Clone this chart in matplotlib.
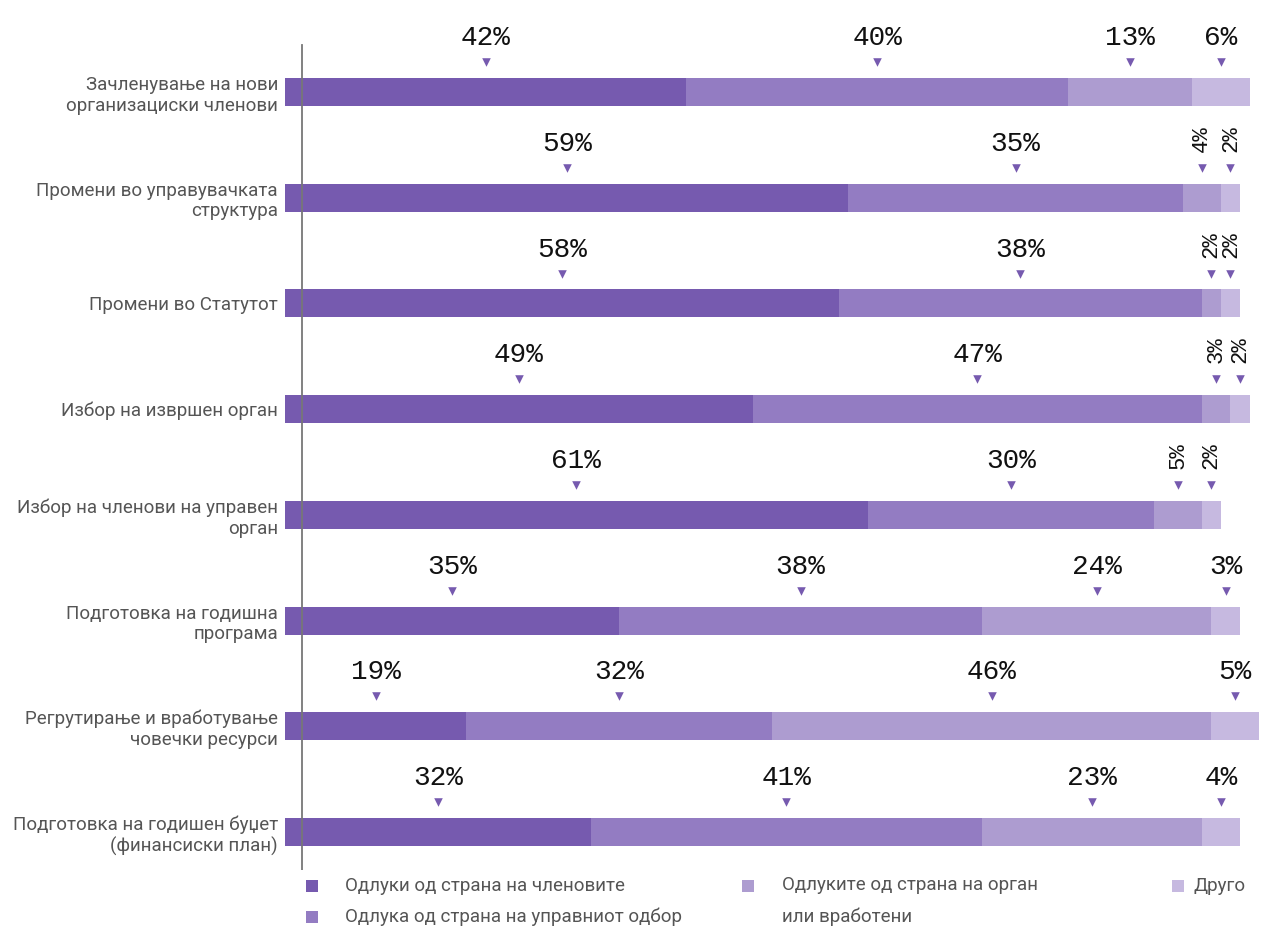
import matplotlib
matplotlib.use("Agg")
import matplotlib.pyplot as plt
from matplotlib.patches import Rectangle
import numpy as np

# Categories (top to bottom) and the share of each decision type, in %
categories = [
    "Зачленување на нови\nорганизациски членови",
    "Промени во управувачката\nструктура",
    "Промени во Статутот",
    "Избор на извршен орган",
    "Избор на членови на управен\nорган",
    "Подготовка на годишна\nпрограма",
    "Регрутирање и вработување\nчовечки ресурси",
    "Подготовка на годишен буџет\n(финансиски план)",
]
members = [42, 59, 58, 49, 61, 35, 19, 32]
board = [40, 35, 38, 47, 30, 38, 32, 41]
body_staff = [13, 4, 2, 3, 5, 24, 46, 23]
other = [6, 2, 2, 2, 2, 3, 5, 4]

series_names = [
    "Одлуки од страна на членовите",
    "Одлука од страна на управниот одбор",
    "Одлуките од страна на орган\nили вработени",
    "Друго",
]
colors = ["#765AAF", "#937CC2", "#AD9CD0", "#C6B9E0"]

W, H = 1265, 930
fig = plt.figure(figsize=(W / 100, H / 100), dpi=100)
ax = fig.add_axes([285 / W, 60 / H, 980 / W, 870 / H])

label_font = dict(family=["Roboto", "DejaVu Sans"], fontsize=13.5, color="#555555")
pct_font = dict(family=["Liberation Mono", "DejaVu Sans Mono"], color="#111111")

data = np.array([members, board, body_staff, other], dtype=float)
y = np.arange(len(categories))
bar_h = 0.265

left = np.zeros(len(categories))
for j, vals in enumerate(data):
    ax.barh(y, vals, left=left, height=bar_h, color=colors[j], linewidth=0)
    for i, v in enumerate(vals):
        cx = left[i] + v / 2
        top = y[i] - bar_h / 2
        ax.scatter(cx, top - 0.15, marker="v", s=38, color=colors[0], linewidths=0, zorder=3)
        # narrow segments next to another narrow one get vertical labels
        prev_small = j > 0 and data[j - 1, i] < 8
        next_small = j < len(data) - 1 and data[j + 1, i] < 8
        txt = f"{int(v)}%"
        if v < 8 and (prev_small or next_small):
            ax.text(cx, top - 0.3, txt, rotation=90, ha="center", va="bottom",
                    fontsize=16, **pct_font)
        else:
            ax.text(cx, top - 0.31, txt, ha="center", va="baseline", fontsize=20, **pct_font)
    left += vals

ax.set_xlim(0, 980 / 9.55)
ax.set_ylim(7.36, -0.87)
ax.set_yticks(y)
ax.set_yticklabels(categories, ha="right", **label_font)
ax.tick_params(axis="y", length=0, pad=5)
ax.set_xticks([])
for s in ax.spines.values():
    s.set_visible(False)

# thin vertical guide line near the bar origin
ax.axvline(17 / 9.55, ymin=0, ymax=(870 - 45) / 870, color="#777777", lw=1.3, zorder=4)

# legend drawn by hand below the bars
leg_items = [(312, 886), (312, 917), (748, 886), (1178, 886)]
text_x = [345, 345, 782, 1193]
sq = 12
for (px, py), tx, name, c in zip(leg_items, text_x, series_names, colors):
    fig.add_artist(Rectangle(((px - sq / 2) / W, 1 - (py + sq / 2) / H), sq / W, sq / H,
                             transform=fig.transFigure, color=c, linewidth=0))
    if "\n" in name:
        fig.text(tx / W, 1 - (py - 10) / H, name, ha="left", va="top", linespacing=1.9, **label_font)
    else:
        fig.text(tx / W, 1 - py / H, name, ha="left", va="center", **label_font)

fig.savefig("out.png", dpi=100, facecolor="white")
